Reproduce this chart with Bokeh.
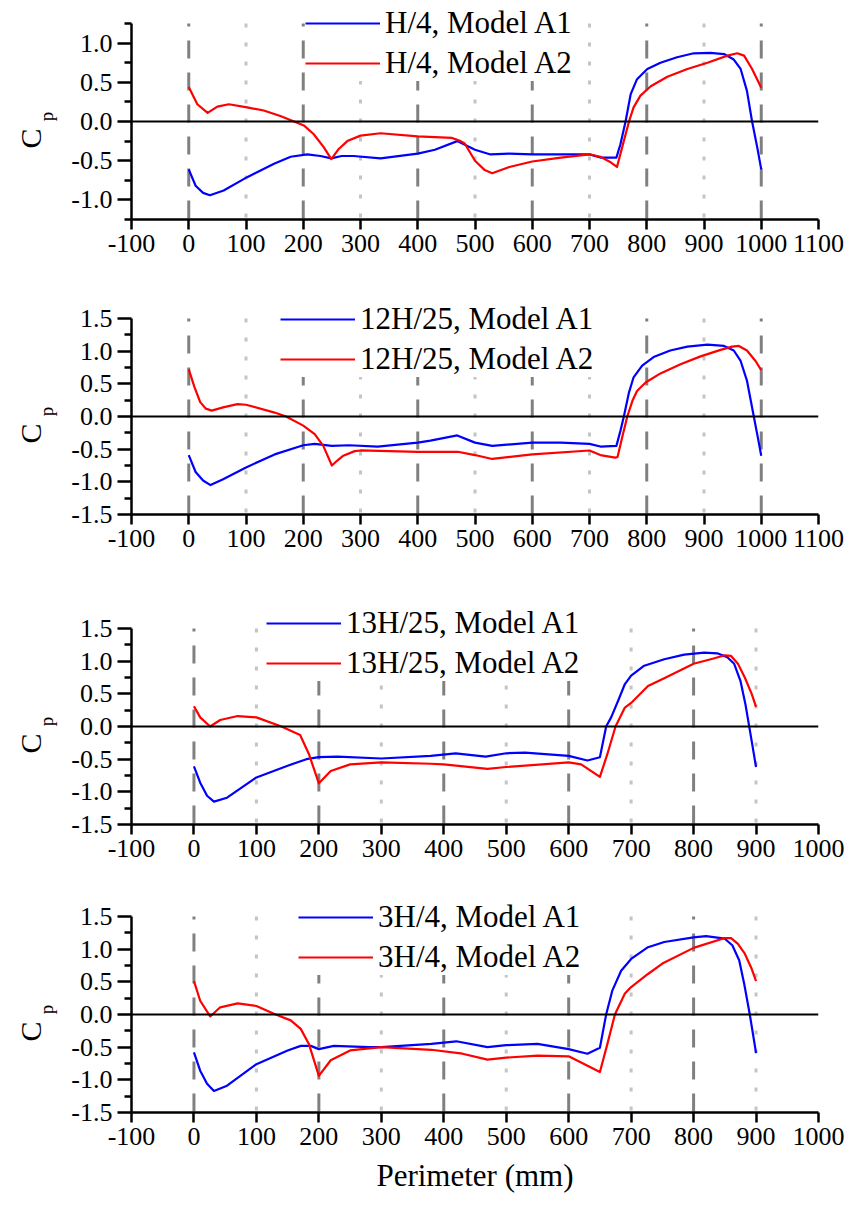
from math import pi
from bokeh.plotting import figure
from bokeh.layouts import column, row
from bokeh.models import Range1d, FixedTicker, Span, Label, NumeralTickFormatter
from bokeh.embed import file_html
from bokeh.resources import INLINE

FONT = "Liberation Serif"

# ---------------- data ----------------
# Panel 1: H/4
p1_a1_x = [0, 12, 25, 37, 61, 102, 149, 178, 207, 230, 249, 267, 288, 335, 400, 430, 469, 500, 527, 560, 600, 700, 719, 747, 754, 763, 772, 783, 801, 824, 853, 882, 911, 935, 952, 964, 975, 984, 993, 1000]
p1_a1_y = [-0.61, -0.82, -0.91, -0.94, -0.88, -0.71, -0.54, -0.45, -0.42, -0.44, -0.47, -0.44, -0.44, -0.47, -0.41, -0.36, -0.25, -0.36, -0.42, -0.41, -0.42, -0.42, -0.46, -0.46, -0.29, 0.00, 0.35, 0.54, 0.67, 0.75, 0.82, 0.87, 0.875, 0.86, 0.79, 0.67, 0.39, 0.00, -0.33, -0.61]
p1_a2_x = [0, 15, 33, 50, 70, 102, 131, 160, 184, 201, 218, 236, 249, 262, 277, 300, 335, 400, 460, 475, 482, 500, 517, 530, 560, 600, 650, 700, 719, 737, 748, 757, 769, 777, 789, 807, 836, 871, 906, 941, 958, 970, 984, 1000]
p1_a2_y = [0.44, 0.22, 0.11, 0.19, 0.22, 0.18, 0.14, 0.07, 0.00, -0.05, -0.16, -0.33, -0.48, -0.35, -0.25, -0.18, -0.15, -0.19, -0.21, -0.25, -0.28, -0.50, -0.62, -0.66, -0.58, -0.51, -0.46, -0.42, -0.45, -0.52, -0.58, -0.33, 0.00, 0.18, 0.33, 0.45, 0.57, 0.67, 0.75, 0.84, 0.87, 0.84, 0.67, 0.43]

# Panel 2: 12H/25
p2_a1_x = [0, 12, 25, 38, 60, 100, 150, 200, 220, 250, 280, 330, 400, 422, 469, 500, 530, 600, 650, 700, 719, 747, 754, 760, 769, 777, 792, 812, 841, 871, 906, 935, 952, 964, 975, 987, 994, 1000]
p2_a1_y = [-0.59, -0.85, -0.98, -1.05, -0.96, -0.78, -0.58, -0.44, -0.42, -0.45, -0.44, -0.46, -0.40, -0.37, -0.29, -0.40, -0.45, -0.40, -0.40, -0.42, -0.46, -0.45, -0.22, 0.00, 0.37, 0.60, 0.78, 0.91, 1.01, 1.07, 1.10, 1.08, 1.01, 0.85, 0.55, 0.00, -0.32, -0.60]
p2_a2_x = [0, 10, 20, 30, 40, 60, 85, 100, 150, 170, 200, 220, 235, 250, 260, 270, 290, 300, 400, 470, 500, 530, 600, 700, 719, 745, 749, 757, 766, 775, 783, 798, 824, 859, 894, 929, 949, 961, 975, 990, 1000]
p2_a2_y = [0.72, 0.45, 0.22, 0.12, 0.09, 0.14, 0.19, 0.18, 0.06, 0.00, -0.14, -0.27, -0.45, -0.75, -0.67, -0.60, -0.53, -0.52, -0.54, -0.54, -0.59, -0.65, -0.58, -0.52, -0.59, -0.63, -0.62, -0.32, 0.00, 0.24, 0.39, 0.52, 0.66, 0.80, 0.92, 1.02, 1.07, 1.08, 1.01, 0.85, 0.71]

# Panel 3: 13H/25
p3_a1_x = [0, 10, 21, 32, 53, 100, 150, 180, 200, 230, 300, 379, 419, 467, 500, 530, 600, 630, 650, 660, 668, 679, 690, 700, 721, 753, 785, 817, 838, 854, 865, 875, 883, 891, 900]
p3_a1_y = [-0.61, -0.86, -1.06, -1.15, -1.09, -0.78, -0.60, -0.50, -0.47, -0.46, -0.49, -0.45, -0.41, -0.46, -0.41, -0.40, -0.45, -0.52, -0.47, 0.00, 0.14, 0.39, 0.65, 0.78, 0.93, 1.03, 1.10, 1.13, 1.12, 1.06, 0.96, 0.70, 0.34, -0.11, -0.62]
p3_a2_x = [0, 10, 26, 42, 70, 100, 140, 170, 184, 200, 219, 250, 300, 379, 400, 470, 500, 600, 620, 650, 662, 675, 690, 700, 727, 753, 800, 832, 850, 860, 871, 882, 893, 900]
p3_a2_y = [0.31, 0.14, 0.00, 0.10, 0.16, 0.14, 0.00, -0.13, -0.42, -0.87, -0.68, -0.58, -0.55, -0.57, -0.58, -0.65, -0.62, -0.55, -0.58, -0.77, -0.42, 0.00, 0.29, 0.36, 0.62, 0.74, 0.96, 1.04, 1.09, 1.08, 0.96, 0.75, 0.50, 0.30]

# Panel 4: 3H/4
p4_a1_x = [0, 10, 21, 32, 53, 100, 150, 171, 187, 200, 224, 280, 300, 380, 420, 470, 500, 550, 600, 630, 650, 660, 670, 684, 700, 727, 753, 800, 820, 850, 862, 873, 881, 890, 900]
p4_a1_y = [-0.58, -0.86, -1.06, -1.17, -1.09, -0.76, -0.55, -0.48, -0.48, -0.53, -0.48, -0.50, -0.50, -0.45, -0.41, -0.50, -0.47, -0.45, -0.53, -0.60, -0.51, 0.00, 0.37, 0.67, 0.85, 1.03, 1.11, 1.18, 1.20, 1.16, 1.06, 0.83, 0.47, 0.00, -0.59]
p4_a2_x = [0, 10, 26, 42, 70, 100, 128, 155, 171, 184, 200, 219, 250, 300, 380, 430, 470, 500, 550, 600, 650, 662, 674, 690, 700, 727, 750, 800, 850, 860, 871, 882, 893, 900]
p4_a2_y = [0.51, 0.21, -0.03, 0.11, 0.17, 0.13, 0.01, -0.09, -0.22, -0.45, -0.94, -0.70, -0.55, -0.50, -0.54, -0.60, -0.69, -0.66, -0.63, -0.64, -0.88, -0.45, 0.00, 0.32, 0.42, 0.62, 0.78, 1.02, 1.17, 1.17, 1.08, 0.93, 0.70, 0.51]

series_labels = ["H/4", "12H/25", "13H/25", "3H/4"]
model_labels = ["Model A1", "Model A2"]

x_ticks_long = [-100, 0, 100, 200, 300, 400, 500, 600, 700, 800, 900, 1000, 1100]
x_ticks_short = [-100, 0, 100, 200, 300, 400, 500, 600, 700, 800, 900, 1000]
y_ticks_small = [-1.0, -0.5, 0.0, 0.5, 1.0]
y_minor_small = [-1.25, -0.75, -0.25, 0.25, 0.75, 1.25]
y_ticks_big = [-1.5, -1.0, -0.5, 0.0, 0.5, 1.0, 1.5]
y_minor_big = [-1.25, -0.75, -0.25, 0.25, 0.75, 1.25]

dashed_long = [0, 200, 400, 600, 800, 1000]
dotted_long = [100, 300, 500, 700, 900]
dashed_short = [0, 200, 400, 600, 800]
dotted_short = [100, 300, 500, 700, 900]

FRAME_H = 196   # height of the axis-bounded plotting area
STRIP = 66      # width of the strip holding the C_p titles
LEFT = 131 - STRIP


def make_panel(a1x, a1y, a2x, a2y, label, xr, yr, xt, yt, ymt, dashed, dotted,
               top_gap, border_bottom, legend_loc, xlabel=None):
    # the frame is extended upward by top_gap px so the legend can sit above the axis end
    span = yr[1] - yr[0]
    y_end = yr[1] + top_gap * span / FRAME_H
    p = figure(width=LEFT + 687 + 40, height=top_gap + FRAME_H + border_bottom,
               frame_width=687, frame_height=FRAME_H + top_gap,
               min_border_left=LEFT, min_border_right=40,
               min_border_top=0, min_border_bottom=border_bottom,
               x_range=Range1d(*xr), y_range=Range1d(yr[0], y_end),
               output_backend="svg", toolbar_location=None,
               background_fill_color="white", border_fill_color="white")
    p.outline_line_color = None
    p.xgrid.visible = False
    p.ygrid.visible = False

    # reference vertical lines (drawn from the top of the axis down)
    n1 = len(dashed)
    p.segment(x0=dashed, y0=[yr[1]] * n1, x1=dashed, y1=[yr[0]] * n1,
              line_color="#808080", line_width=3, line_dash="18 14", line_dash_offset=15)
    n2 = len(dotted)
    p.segment(x0=dotted, y0=[yr[1]] * n2, x1=dotted, y1=[yr[0]] * n2,
              line_color="#c4c4c4", line_width=3, line_dash="4 15")

    p.add_layout(Span(location=0, dimension="width", line_color="black", line_width=2))

    p.line(a1x, a1y, line_color="#0000ff", line_width=2.2, line_join="round",
           legend_label=f"{label}, {model_labels[0]}")
    p.line(a2x, a2y, line_color="#ff0000", line_width=2.2, line_join="round",
           legend_label=f"{label}, {model_labels[1]}")

    leg = p.legend[0]
    leg.location = legend_loc
    leg.label_text_font = FONT
    leg.label_text_font_size = "31px"
    leg.label_text_color = "black"
    leg.glyph_width = 75
    leg.glyph_height = 36
    leg.label_height = 36
    leg.label_standoff = 5
    leg.spacing = 4
    leg.padding = 2
    leg.margin = 0
    leg.background_fill_color = "white"
    leg.background_fill_alpha = 1.0
    leg.border_line_color = None

    xa = p.xaxis[0]
    xa.ticker = FixedTicker(ticks=xt, minor_ticks=[])
    xa.formatter = NumeralTickFormatter(format="0")
    xa.major_tick_out = 10
    xa.major_tick_in = 0
    xa.major_label_standoff = 5
    ya = p.yaxis[0]
    ya.bounds = yr
    ya.ticker = FixedTicker(ticks=yt, minor_ticks=ymt)
    ya.formatter = NumeralTickFormatter(format="0.0")
    ya.major_tick_out = 14
    ya.major_tick_in = 0
    ya.minor_tick_out = 7
    ya.minor_tick_in = 0
    ya.major_label_standoff = 5
    for ax in (xa, ya):
        ax.axis_line_color = "black"
        ax.axis_line_width = 2.5
        ax.major_tick_line_color = "black"
        ax.major_tick_line_width = 2.5
        ax.minor_tick_line_color = "black"
        ax.minor_tick_line_width = 2.5
        ax.major_label_text_font = FONT
        ax.major_label_text_font_size = "26px"
        ax.major_label_text_color = "black"
    if xlabel:
        xa.axis_label = xlabel
        xa.axis_label_text_font = FONT
        xa.axis_label_text_font_size = "31px"
        xa.axis_label_text_font_style = "normal"
        xa.axis_label_text_color = "black"
        xa.axis_label_standoff = 10
    return p


f1 = make_panel(p1_a1_x, p1_a1_y, p1_a2_x, p1_a2_y, series_labels[0], (-100, 1100), (-1.25, 1.25),
                x_ticks_long, y_ticks_small, y_minor_small, dashed_long, dotted_long,
                23, 51, (174, 138))
f2 = make_panel(p2_a1_x, p2_a1_y, p2_a2_x, p2_a2_y, series_labels[1], (-100, 1100), (-1.5, 1.5),
                x_ticks_long, y_ticks_big, y_minor_big, dashed_long, dotted_long,
                48, 51, (149, 137))
f3 = make_panel(p3_a1_x, p3_a1_y, p3_a2_x, p3_a2_y, series_labels[2], (-100, 1000), (-1.5, 1.5),
                x_ticks_short, y_ticks_big, y_minor_big, dashed_short, dotted_short,
                63, 51, (135, 143))
f4 = make_panel(p4_a1_x, p4_a1_y, p4_a2_x, p4_a2_y, series_labels[3], (-100, 1000), (-1.5, 1.5),
                x_ticks_short, y_ticks_big, y_minor_big, dashed_short, dotted_short,
                41, 92, (167, 137), xlabel="Perimeter (mm)")

# strip on the left that carries the "C_p" axis titles (C with subscript p)
TOTAL_H = 270 + 295 + 310 + 329
frame_tops = [23, 318, 628, 916]
lab = figure(width=STRIP, height=TOTAL_H, x_range=Range1d(0, STRIP), y_range=Range1d(0, TOTAL_H),
             x_axis_type=None, y_axis_type=None,
             min_border=0, output_backend="svg", toolbar_location=None,
             background_fill_color="white", border_fill_color="white")
lab.outline_line_color = None
lab.xgrid.visible = False
lab.ygrid.visible = False
for ft in frame_tops:
    lab.add_layout(Label(x=30, y=TOTAL_H - (ft + 115), text="C", angle=pi / 2, text_font=FONT,
                         text_font_size="30px", text_align="center", text_baseline="alphabetic",
                         text_color="black"))
    lab.add_layout(Label(x=46, y=TOTAL_H - (ft + 93), text="p", angle=pi / 2, text_font=FONT,
                         text_font_size="19px", text_align="center", text_baseline="alphabetic",
                         text_color="black"))

layout = row(lab, column(f1, f2, f3, f4, spacing=0), spacing=0)
open("out.html", "w").write(file_html(layout, INLINE))
